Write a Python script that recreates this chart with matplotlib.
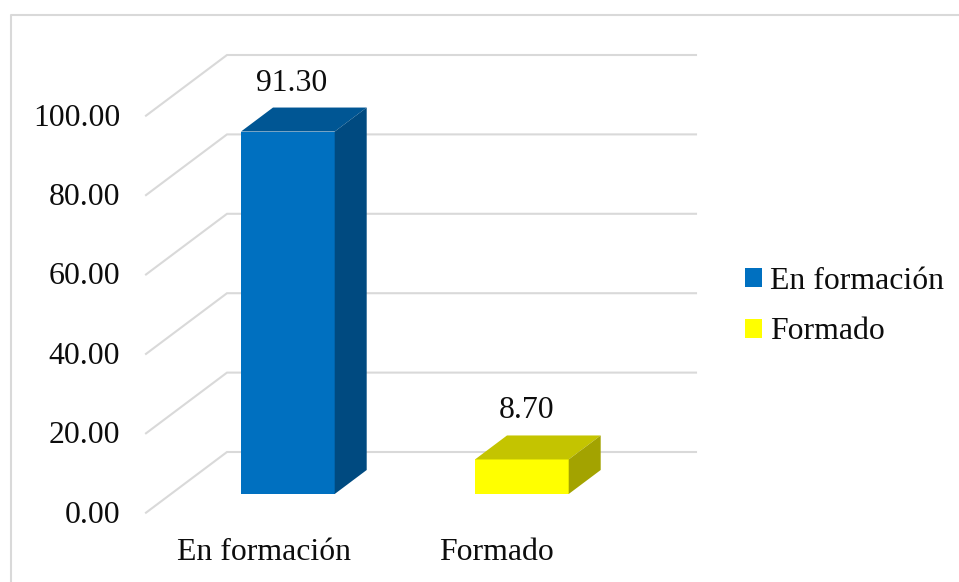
import numpy as np
import matplotlib
matplotlib.use("Agg")
import matplotlib.pyplot as plt
from matplotlib.patches import Polygon, Patch

categorias = ["En formación", "Formado"]
valores = [91.30, 8.70]
etiquetas = ["91.30", "8.70"]
marcas = [0, 20, 40, 60, 80, 100]
marcas_txt = ["0.00", "20.00", "40.00", "60.00", "80.00", "100.00"]

col_frente = ["#0070c0", "#ffff00"]
col_arriba = ["#005694", "#c4c400"]
col_lado = ["#004a80", "#a3a300"]
gris = "#d9d9d9"
negro = "#0d0d0d"

W, H = 959, 582
PX_X = 234.0    # pixeles por categoria
PX_Y = 3.97     # pixeles por unidad
X0, Y0 = 287.85, 494.0
ANCHO = 93.7 / PX_X
DX, DY = 32 / PX_X, 24 / PX_Y   # profundidad de la barra
FUENTE = 22.9

plt.rcParams['font.family'] = ['Liberation Serif', 'DejaVu Serif']
fig = plt.figure(figsize=(W / 100, H / 100), dpi=100)
ax = fig.add_axes([0, 0, 1, 1])
ax.set_xlim(-X0 / PX_X, (W - X0) / PX_X)
ax.set_ylim((Y0 - H) / PX_Y, Y0 / PX_Y)
ax.axis("off")

# Pared y piso
pf_x = (146 - X0) / PX_X
pa_x = (227 - X0) / PX_X
fin_x = (696 - X0) / PX_X
off_f = (Y0 - 512.7) / PX_Y
off_a = (Y0 - 452.0) / PX_Y
for m, t in zip(marcas, marcas_txt):
    ax.plot([pf_x, pa_x, fin_x], [m + off_f, m + off_a, m + off_a],
            color=gris, lw=1.5, solid_joinstyle="miter", zorder=1)
    ax.annotate(t, (pf_x, m + off_f), xytext=(-26 * 0.72, -10 * 0.72),
                textcoords="offset points", ha="right", va="baseline",
                fontsize=FUENTE, color=negro)

# Barras
xs = np.arange(len(valores))
ax.bar(xs, valores, width=ANCHO, color=col_frente, zorder=3)
for i, v in enumerate(valores):
    iz, de = i - ANCHO / 2, i + ANCHO / 2
    ax.add_patch(Polygon([(iz, v), (de, v), (de + DX, v + DY), (iz + DX, v + DY)],
                         color=col_arriba[i], lw=0, zorder=3))
    ax.add_patch(Polygon([(de, 0), (de + DX, DY), (de + DX, v + DY), (de, v)],
                         color=col_lado[i], lw=0, zorder=3))
    ax.text(i + (4 + i) / PX_X, v + DY + 17 / PX_Y, etiquetas[i], ha="center",
            va="baseline", fontsize=FUENTE, color=negro)
    ax.text(i - (24 + i) / PX_X, (Y0 - 560) / PX_Y, categorias[i], ha="center",
            va="baseline", fontsize=FUENTE, color=negro)

# Marco
fig.add_artist(plt.Line2D([10.5 / W, 10.5 / W, 1], [0, 1 - 14.5 / H, 1 - 14.5 / H],
                          color=gris, lw=1.5))

h = [Patch(color=c, lw=0) for c in col_frente]
ax.legend(h, categorias, loc="upper left", bbox_to_anchor=(745 / W, 1 - 267 / H),
          frameon=False, fontsize=FUENTE, handlelength=0.53, handleheight=0.53,
          handletextpad=0.25, labelspacing=0.675, borderpad=0, borderaxespad=0,
          labelcolor=negro)

fig.savefig("out.png", dpi=100)
